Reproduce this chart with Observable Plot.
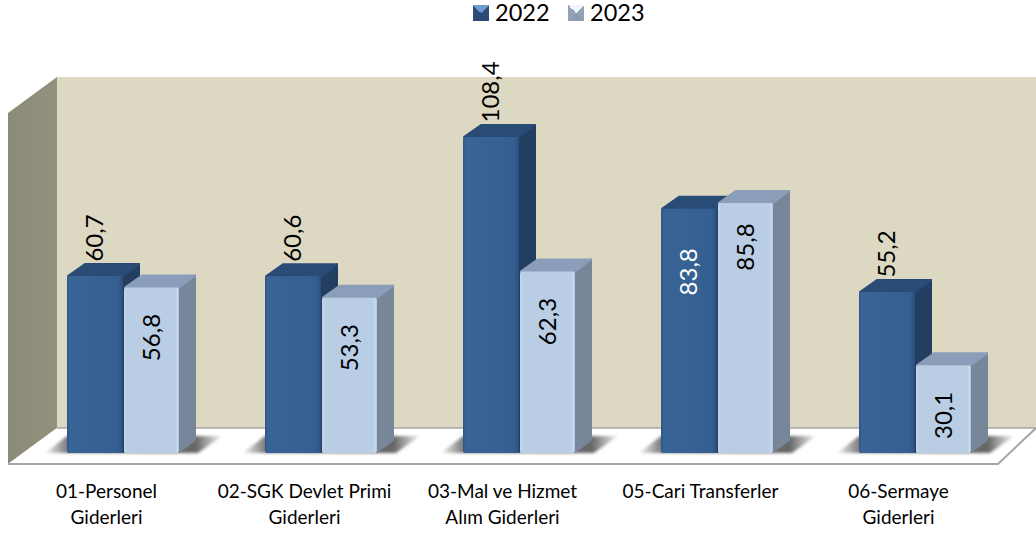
<!DOCTYPE html>
<html><head><meta charset="utf-8">
<script src="https://cdn.jsdelivr.net/npm/d3@7"></script>
<script src="https://cdn.jsdelivr.net/npm/@observablehq/plot@0.6"></script>
<style>
html,body{margin:0;padding:0;background:#fff}
#legend{position:relative;height:24px;font:23.5px Lato,sans-serif;color:#000}
#legend span{position:absolute;top:-2px;line-height:28px}
#legend i{position:absolute;top:5px;width:16px;height:16px;display:block}
svg{display:block}
</style></head><body>
<div id="legend">
<i style="left:473px;background:conic-gradient(from -45deg,#6f9bd3 0 25%,#2c4d78 0 50%,#2a4a73 0 75%,#2c4d78 0)"></i><span style="left:495px">2022</span>
<i style="left:568px;background:conic-gradient(from -45deg,#eef4fa 0 25%,#93a2b8 0 50%,#8d9bb0 0 75%,#93a2b8 0)"></i><span style="left:590px">2023</span>
</div>
<script>
const categories = ["01-Personel\nGiderleri","02-SGK Devlet Primi\nGiderleri","03-Mal ve Hizmet\nAlım Giderleri","05-Cari Transferler","06-Sermaye\nGiderleri"];
const values2022 = [60.7,60.6,108.4,83.8,55.2];
const values2023 = [56.8,53.3,62.3,85.8,30.1];
const yMax = 129;

const rows22 = categories.map((c,i)=>({c,v:values2022[i]}));
const rows23 = categories.map((c,i)=>({c,v:values2023[i]}));
const fmt = v => v.toFixed(1).replace(".",",");
const L22=59, W22=56, L23=116, W23=55, DX=17, DY=13, BW=198;
const NS="http://www.w3.org/2000/svg";
const el=(n,a)=>{const e=document.createElementNS(NS,n);for(const k in a)e.setAttribute(k,a[k]);return e};
const poly=(pts,fill,extra={})=>el("polygon",{points:pts.map(p=>p.join(",")).join(" "),fill,...extra});

function background(index,{x,y}){
  const g=el("g",{});
  const defs=el("defs",{});
  const grad=(id,stops,x2=1,y2=0)=>{const l=el("linearGradient",{id,x1:0,y1:0,x2,y2});stops.forEach(([o,c])=>l.append(el("stop",{offset:o,"stop-color":c})));defs.append(l)};
  grad("dk",[[0,"#2f5585"],[.05,"#3a6496"],[.9,"#355f91"],[.97,"#2f5585"],[1,"#2a4c78"]]);
  grad("lt",[[0,"#c5d6ea"],[.06,"#b9cde5"],[.92,"#b9cde5"],[.98,"#c8d9ee"],[1,"#a9bcd4"]]);
  grad("wl",[[0,"#8c8a78"],[1,"#93907e"]]);
  grad("sh",[[0,"#f4f4f4"],[.13,"#777777"],[.85,"#666666"],[1,"#f4f4f4"]]);
  const f=el("filter",{id:"blur",x:"-20%",y:"-50%",width:"140%",height:"200%"});
  f.append(el("feGaussianBlur",{stdDeviation:1.8}));defs.append(f);
  g.append(defs);
  const x0=x(categories[0]), x1=x0+BW*categories.length, base=y(0), top=y(yMax), wx=49, wy=36;
  const back=base-25, front=base+11;
  g.append(poly([[x0+wx,top],[1036,top],[1036,back],[x0+wx,back]],"#ddd8c2"));
  g.append(poly([[x0,top+wy],[x0+wx,top],[x0+wx,back],[x0,front]],"url(#wl)"));
  g.append(poly([[x0,front],[x0+wx,back],[1036,back],[x1,front]],"#fff"));
  g.append(el("polyline",{points:`${x0+wx},${back} 1036,${back}`,fill:"none",stroke:"#a6a6a6","stroke-width":1.5}));
  g.append(el("polyline",{points:`${x0},${front} ${x1},${front} 1036,${back}`,fill:"none",stroke:"#a6a6a6","stroke-width":2}));
  categories.forEach(c=>{
    const l=x(c);
    g.append(poly([[l+L22-22,base],[l+L22,base-17],[l+L23+W23+DX+26,base-17],[l+L23+W23+DX+2,base]],"url(#sh)",{filter:"url(#blur)"}));
  });
  return g;
}
function faces(rows,L,W,top,side){
  return (index,{x,y})=>{
    const g=el("g",{"stroke-linejoin":"round"});
    rows.forEach(({c,v})=>{
      const a=x(c)+L,b=a+W,t=y(v),base=y(0);
      const attrs=col=>({stroke:col,"stroke-width":2});
      g.append(poly([[b,t+1],[b+DX-1,t-DY+1],[b+DX-1,base-DY],[b,base-1]],side,attrs(side)));
      g.append(poly([[a+1,t],[a+DX+1,t-DY+1],[b+DX-1,t-DY+1],[b,t]],top,attrs(top)));
    });
    return g;
  };
}
const textOpts={x:"c",text:d=>fmt(d.v),rotate:-90,fontSize:24,fontFamily:"Lato,sans-serif",fill:"#000"};
const chart = Plot.plot({
  width:1036,height:509,marginLeft:8,marginRight:38,marginTop:53,marginBottom:80,
  style:{background:"transparent",overflow:"visible"},
  x:{domain:categories,padding:0,label:null},
  y:{domain:[0,yMax],axis:null},
  marks:[
    background,
    faces(rows22,L22,W22,"#2a4b76","#233e60"),
    Plot.barY(rows22,{x:"c",y:"v",fill:"url(#dk)",insetLeft:L22,insetRight:BW-L22-W22,r:2}),
    faces(rows23,L23,W23,"#8b9eb9","#778699"),
    Plot.barY(rows23,{x:"c",y:"v",fill:"url(#lt)",insetLeft:L23,insetRight:BW-L23-W23,r:2}),
    Plot.text(rows22.filter(d=>d.v!==83.8),{...textOpts,y:"v",textAnchor:"start",dy:-15,dx:-12}),
    Plot.text(rows22.filter(d=>d.v===83.8),{...textOpts,y:"v",textAnchor:"end",dy:39,dx:-12,fill:"#fff"}),
    Plot.text(rows23.filter(d=>d.v!==85.8),{...textOpts,y:"v",textAnchor:"end",dy:26,dx:45}),
    Plot.text(rows23.filter(d=>d.v===85.8),{...textOpts,y:"v",textAnchor:"end",dy:20,dx:45}),
    Plot.axisX({domain:categories,tickSize:0,tickPadding:26,dx:-1,fontSize:19,fontFamily:"Lato,sans-serif",lineHeight:1.37,label:null,color:"#000",tickFormat:d=>d,textOverflow:null,lineWidth:Infinity})
  ]
});
document.body.append(chart);
</script>
</body></html>
